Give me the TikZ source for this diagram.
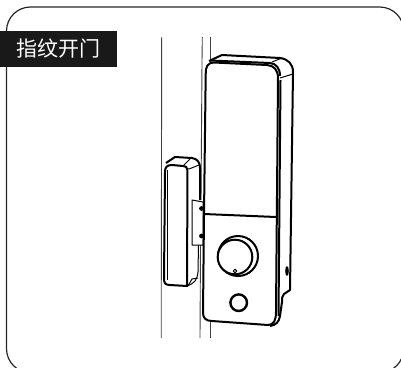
\documentclass[tikz,border=0pt]{standalone}
\usepackage{fontspec}
\newfontfamily\cjk{Noto Sans CJK SC}
\tikzset{
  frameline/.style={draw=black!85,line width=1.2pt},
  wall/.style={draw=black!75,line width=0.9pt},
  lockthick/.style={draw=black,line width=2pt,line join=round},
  lockthin/.style={draw=black,line width=1pt,line join=round},
  tag/.style={fill=black!90,text=white,inner sep=0pt,minimum width=117pt,minimum height=36pt,font=\cjk\fontsize{21}{21}\selectfont}
}
\begin{document}
\begin{tikzpicture}[x=1pt,y=-1pt]
\useasboundingbox (0,0) rectangle (401,367);
\draw[frameline,rounded corners=24pt] (6.5,7) rectangle (403.7,372.7);
\node[tag] (label) at (58.5,49) {指纹开门};
% wall
\draw[wall] (161.7,37) -- (161.2,338);
\draw[wall] (202.3,37) -- (202,62);
\draw[wall] (210,37) -- (210,60);
\draw[wall] (200.5,245) -- (200,338);
\draw[wall] (210,322) -- (210,338);
\draw[wall] (202,62) -- (201,200);
% handle
\draw[lockthick] (166,163) -- (175,157) -- (192,158) .. controls (198,159) and (200,163) .. (200,168) -- (200,200);
\draw[lockthin] (198.5,245) -- (198,272) .. controls (197,280) and (195,283) .. (187,286);
\draw[lockthick] (187.5,168) -- (187,286) -- (170,285) .. controls (165,285) and (164,283) .. (164,278) -- (165,172) .. controls (165,167) and (167,165) .. (172,165) -- (183,166) .. controls (186,166) and (187,167) .. (187.5,170);
\draw[lockthin] (183,166) -- (190,159);
\draw[lockthin] (189,169) -- (199,165);
\draw[lockthin] (188,286) -- (192,279) -- (198,278);
\draw[lockthin] (167,170) -- (167,280);
% bracket
\draw[lockthin,fill=white] (192,200) -- (203,202) -- (203,245) -- (192,245) -- cycle;
\fill (201.5,208.5) circle (2.4pt);
\fill (201.5,236) circle (2.4pt);
% lock back
\draw[lockthick] (209,61) -- (222,55) -- (280,58) .. controls (288,59) and (293,64) .. (293,72) -- (290,290) -- (284,294) .. controls (282,296) and (282,298) .. (282,302) -- (280,316) .. controls (279,322) and (276,325) .. (270,326);
\draw[lockthin] (272,62) -- (282,58);
\draw[lockthin] (280,78) -- (293,74);
\draw[lockthick] (280.5,80) -- (278.5,316);
% lock front
\draw[lockthick] (205.7,74) .. controls (205.7,67) and (207,63) .. (214,62.5) -- (267,65) .. controls (274,65.5) and (278,70) .. (278,78) -- (276,312) .. controls (276,320) and (274,325) .. (268,325) -- (212,321) .. controls (206,321) and (203,318) .. (203,313) -- (204,215) -- cycle;
\draw[lockthick] (210,60.5) -- (270,63) .. controls (276,63.5) and (280,68) .. (280,76);
\draw[lockthick] (204,214) -- (276,217);
% knob
\draw[lockthick] (238,256) circle (20pt);
\draw[lockthick,fill=white] (235,257) circle (17.3pt);
\draw[lockthin,fill=white] (235,271) circle (1.8pt);
\draw[line width=2.4pt] (238.7,302.7) circle (8.3pt);
\fill (287,271) ellipse (1.8pt and 5pt);
\end{tikzpicture}
\end{document}
